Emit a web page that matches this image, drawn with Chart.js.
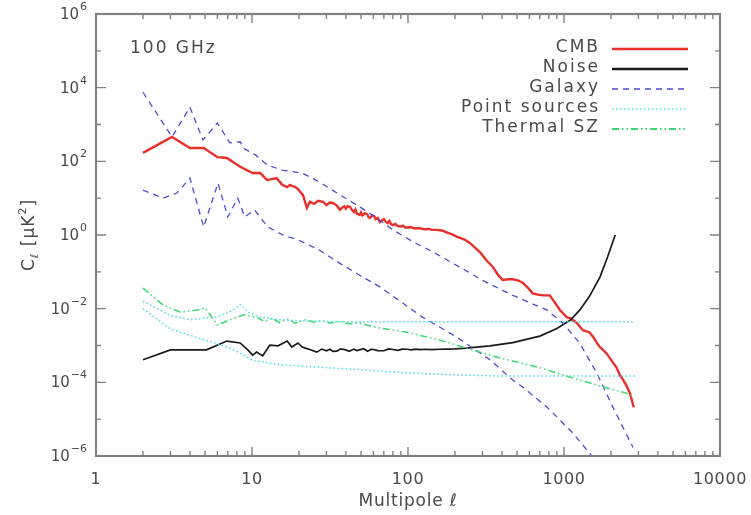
<!DOCTYPE html>
<html><head><meta charset="utf-8">
<script src="https://cdn.jsdelivr.net/npm/chart.js@4.4.1/dist/chart.umd.min.js"></script>
<style>html,body{margin:0;padding:0;background:#fff}#wrap{width:751px;height:515px}</style>
</head><body><div id="wrap"><canvas id="c" width="751" height="515"></canvas></div>
<script>
// ---- data (multipole l, C_l in muK^2) ----
const cmbL = [2,3.07,4,4.9,6,6.9,8.4,10.1,11.3,12.5,14.4,15.6,16.8,17.5,19.4,21.2,22.5,23.5,25,26.5,28.5,30,31.5,33,35,36.6,38,39,40,41,42.5,44,45,46,47,49,50,51,53,55,56,57,59,61,62,64,66,68,70,72,74,76,78,80,83,86,90,93,96,100,104,108,112,118,125,130,135,140,145,153,160,168,175,190,205,218,230,250,270,290,320,350,380,405,440,470,510,545,590,630,680,735,810,870,940,1040,1100,1210,1320,1450,1540,1620,1700,1780,1880,2010,2160,2280,2400,2520,2650,2800];
const cmbV = [170,460,230,230,130,123,71,48,48,31,35,23,20,23,19,12.3,5.4,8,7,8.5,8,6.5,7.6,7.4,6.3,4.8,5.6,6,5.2,6.1,5.8,4.6,4.2,4.9,3.8,3.5,4.1,3.4,3.9,3.6,3.0,2.9,3.4,3.2,2.7,2.9,2.24,2.5,2.7,2.3,2.1,2.4,1.95,1.86,2.0,1.75,1.7,1.8,1.6,1.6,1.65,1.55,1.5,1.55,1.45,1.42,1.48,1.4,1.38,1.38,1.35,1.3,1.2,1.05,0.9,0.82,0.75,0.6,0.45,0.34,0.2,0.135,0.08,0.06,0.063,0.063,0.058,0.05,0.036,0.026,0.024,0.023,0.023,0.015,0.0092,0.0059,0.0055,0.0041,0.0026,0.0023,0.0017,0.0012,0.0009,0.00076,0.0006,0.0004,0.00026,0.00016,0.000115,0.00008,0.00005,0.000021];

const noiseL = [2,3,5.1,6.9,8.4,9.4,10.1,10.7,11.7,13,14.7,16.8,18,19.7,21,23,26,28,30,31.6,33,35,37,40,42,45,47,49,52,55,58,60,64,70,75,80,86,92,98,105,112,120,130,140,160,180,200,237,335,470,700,900,1100,1260,1450,1700,1900,2130];
const noiseV = [4.1e-4,7.6e-4,7.6e-4,1.32e-3,1.17e-3,7.6e-4,5.5e-4,6.6e-4,5.2e-4,1.02e-3,9.8e-4,1.32e-3,9.1e-4,1.17e-3,9.1e-4,8e-4,6.6e-4,8e-4,7.2e-4,7.9e-4,6.9e-4,7e-4,8.1e-4,7.6e-4,7.0e-4,8e-4,7.3e-4,7.6e-4,8.2e-4,7e-4,7.9e-4,7.8e-4,7.3e-4,7.2e-4,8.1e-4,7.8e-4,7.4e-4,8.0e-4,7.9e-4,7.6e-4,8.0e-4,7.7e-4,7.9e-4,7.7e-4,7.9e-4,8.0e-4,8.1e-4,8.5e-4,9.8e-4,1.2e-3,1.8e-3,2.9e-3,4.9e-3,9.1e-3,2.1e-2,7.2e-2,0.25,1.0];

const galHiL = [2,3.07,4,4.85,6,7.2,8.4,8.8,10.5,12.5,15.8,21,27,36.6,47,63,80,108,144,194,260,290,470,780,980,1260,1620,2060,2770];
const galHiV = [7500,460,2950,380,1100,320,340,230,150,80,57,48,27.5,12.3,6.5,2.9,1.38,0.65,0.35,0.17,0.085,0.063,0.023,0.0091,0.0041,0.00117,0.00018,0.000021,0.0000017];

const galLoL = [2,2.69,3.3,4,4.9,6.05,7,8.1,9,10.4,12.6,15.8,20,27,36.6,49,66,124,205,335,470,545,780,1140,1530,1600];
const galLoV = [16.6,10,13.8,35,1.66,25.7,3.1,10,3.1,4.8,1.66,1.0,0.72,0.39,0.17,0.081,0.039,0.0059,0.0017,4.1e-4,1.15e-4,7.4e-5,2.1e-5,4.2e-6,9.3e-7,7e-7];

const psHiL = [2,3,4,5,6,7.5,8.4,9.5,11,15,20,30,50,100,2850];
const psHiV = [0.016,0.0065,0.005,0.0055,0.006,0.009,0.013,0.008,0.006,0.005,0.0047,0.0045,0.0044,0.0044,0.0044];

const psLoL = [2,2.5,3,4,5,6,7,8.5,10,15,20,30,50,100,200,400,2850];
const psLoV = [0.01,0.005,0.0028,0.0019,0.0014,0.0011,0.0009,0.0006,0.0004,0.0003,0.00028,0.00025,0.00022,0.00018,0.00016,0.000148,0.000148];

const szL = [2,2.69,3.45,4.4,5,5.4,6,7.2,8.8,10.7,12,13.5,15,17,19,22,25,28,32,36,42,49,60,98,160,237,388,700,1260,1870,2510,2800];
const szV = [0.036,0.0126,0.0081,0.0091,0.0105,0.0068,0.0036,0.0049,0.0068,0.0059,0.0045,0.0055,0.0042,0.0052,0.004,0.005,0.0043,0.0047,0.004,0.0045,0.0039,0.0041,0.0032,0.0023,0.0014,8.5e-4,4.6e-4,2.5e-4,1.15e-4,7.1e-5,5.1e-5,4e-5];

const xTickLabels = ['1','10','100','1000','10000'];
const xTickValues = [1,10,100,1000,10000];
const yTickExps = [-6,-4,-2,0,2,4,6];
const legendNames = ['CMB','Noise','Galaxy','Point sources','Thermal SZ'];
const bandLabel = '100 GHz';

// ---- build ----
const pts = (ls, vs) => ls.map((l,i)=>({x:l,y:vs[i]}));
const RED='#e8302c', BLACK='#1a1a1a', BLUE='#4b4bd6', CYAN='#49dede', GREEN='#3ad870';
const DASH_GAL=[6,5], DASH_PS=[1.5,2.5], DASH_SZ=[7,3,1.5,3,1.5,3];
function ds(label, data, color, width, dash){
  return {label, data, borderColor:color, borderWidth:width, borderDash:dash||[], showLine:true, pointRadius:0, fill:false, tension:0};
}
const datasets = [
  ds('Point sources', pts(psHiL,psHiV), CYAN, 1.5, DASH_PS),
  ds('Point sources (2)', pts(psLoL,psLoV), CYAN, 1.5, DASH_PS),
  ds('Thermal SZ', pts(szL,szV), GREEN, 1.5, DASH_SZ),
  ds('Galaxy', pts(galHiL,galHiV), BLUE, 1.3, DASH_GAL),
  ds('Galaxy (2)', pts(galLoL,galLoV), BLUE, 1.3, DASH_GAL),
  ds('Noise', pts(noiseL,noiseV), BLACK, 1.7),
  ds('CMB', pts(cmbL,cmbV), RED, 2.4),
];
const legendStyle = [
  {c:RED,w:2.5,d:[]},{c:BLACK,w:2.5,d:[]},{c:BLUE,w:1.5,d:DASH_GAL},{c:CYAN,w:1.5,d:DASH_PS},{c:GREEN,w:1.8,d:DASH_SZ}
];

const TXT='#4a4a4a', AX='#808080', FONT='"DejaVu Sans", sans-serif';
const deco = {
  id:'deco',
  afterDatasetsDraw(chart){
    const c = chart.ctx, a = chart.chartArea, xs = chart.scales.x, ys = chart.scales.y;
    c.save();
    // frame
    c.strokeStyle=AX; c.lineWidth=2.2; c.setLineDash([]);
    c.strokeRect(a.left, a.top, a.right-a.left, a.bottom-a.top);
    // x ticks
    c.lineWidth=1.4;
    for(let e=0;e<4;e++){
      for(let k=1;k<10;k++){
        const v=k*Math.pow(10,e), px=xs.getPixelForValue(v), L=(k===1)?9:5;
        c.beginPath(); c.moveTo(px,a.bottom); c.lineTo(px,a.bottom-L);
        c.moveTo(px,a.top); c.lineTo(px,a.top+L); c.stroke();
      }
    }
    // y ticks
    for(let e=-6;e<=6;e++){
      const py=ys.getPixelForValue(Math.pow(10,e)), L=(e%2===0)?10:5;
      c.beginPath(); c.moveTo(a.left,py); c.lineTo(a.left+L,py);
      c.moveTo(a.right,py); c.lineTo(a.right-L,py); c.stroke();
    }
    // x labels
    c.fillStyle=TXT; c.textBaseline='middle'; c.textAlign='center';
    c.font='16px '+FONT; c.letterSpacing='0.6px';
    xTickValues.forEach((v,i)=>{ c.fillText(xTickLabels[i], xs.getPixelForValue(v), a.bottom+24); });
    c.font='17px '+FONT; c.letterSpacing='0.8px';
    c.fillText('Multipole \u2113', (a.left+a.right)/2, a.bottom+46);
    // y labels
    c.letterSpacing='0px';
    yTickExps.forEach(e=>{
      const py=ys.getPixelForValue(Math.pow(10,e));
      const ex=(e<0?'\u2212':'')+Math.abs(e);
      c.font='11px '+FONT; const we=c.measureText(ex).width;
      c.font='15px '+FONT; const wb=c.measureText('10').width;
      const right=a.left-9;
      c.textAlign='left'; c.textBaseline='middle';
      c.fillText('10', right-we-wb-1, py+1);
      c.font='11px '+FONT; c.fillText(ex, right-we, py-7);
    });
    // y title
    c.save();
    c.translate(30,(a.top+a.bottom)/2); c.rotate(-Math.PI/2);
    c.letterSpacing='1px';
    const parts=[['C',17,0],['\u2113',11,5],[' [\u03bcK',17,0],['2',11,-7],[']',17,0]];
    let tw=0; parts.forEach(p=>{c.font=p[1]+'px '+FONT; tw+=c.measureText(p[0]).width;});
    let x=-tw/2; c.textAlign='left'; c.textBaseline='middle';
    parts.forEach(p=>{c.font=p[1]+'px '+FONT; c.fillText(p[0],x,p[2]); x+=c.measureText(p[0]).width;});
    c.restore();
    // band label
    c.font='17px '+FONT; c.letterSpacing='2px'; c.textAlign='left';
    c.fillText(bandLabel, 130, 49);
    // legend
    legendNames.forEach((n,i)=>{
      const y=48+i*20;
      c.fillStyle=TXT; c.textAlign='right'; c.font='17px '+FONT; c.letterSpacing='2px';
      c.fillText(n, 600, y);
      const s=legendStyle[i];
      c.strokeStyle=s.c; c.lineWidth=s.w; c.setLineDash(s.d);
      c.beginPath(); c.moveTo(612,y+1); c.lineTo(688,y+1); c.stroke();
    });
    c.restore();
  }
};

new Chart(document.getElementById('c').getContext('2d'), {
  type:'scatter',
  data:{datasets},
  options:{
    responsive:false, animation:false, devicePixelRatio:1,
    layout:{padding:{left:96,right:31,top:14,bottom:59}},
    scales:{
      x:{type:'logarithmic',min:1,max:10000,display:false},
      y:{type:'logarithmic',min:1e-6,max:1e6,display:false}
    },
    plugins:{legend:{display:false},tooltip:{enabled:false}},
    elements:{point:{radius:0}}
  },
  plugins:[deco]
});
</script>
</body></html>
